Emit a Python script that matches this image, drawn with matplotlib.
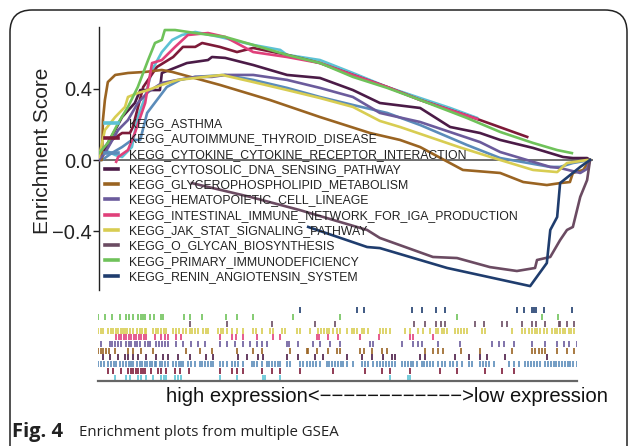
import matplotlib
matplotlib.use("Agg")
import matplotlib.pyplot as plt
from matplotlib.patches import FancyBboxPatch

plt.rcParams['font.family'] = ['Liberation Sans', 'DejaVu Sans']

# ---------------- data ----------------
gene_sets = ["KEGG_ASTHMA", "KEGG_AUTOIMMUNE_THYROID_DISEASE",
             "KEGG_CYTOKINE_CYTOKINE_RECEPTOR_INTERACTION",
             "KEGG_CYTOSOLIC_DNA_SENSING_PATHWAY",
             "KEGG_GLYCEROPHOSPHOLIPID_METABOLISM",
             "KEGG_HEMATOPOIETIC_CELL_LINEAGE",
             "KEGG_INTESTINAL_IMMUNE_NETWORK_FOR_IGA_PRODUCTION",
             "KEGG_JAK_STAT_SIGNALING_PATHWAY",
             "KEGG_O_GLYCAN_BIOSYNTHESIS",
             "KEGG_PRIMARY_IMMUNODEFICIENCY",
             "KEGG_RENIN_ANGIOTENSIN_SYSTEM"]
colors = ["#5cc2d4", "#7d1a38", "#5b8cba", "#4b1b47", "#9a6422", "#6b5b9c",
          "#e0407a", "#d8cd52", "#6b4b62", "#6fc25a", "#1f3d6e"]

# running enrichment score: x = position in ranked list (%), y = ES
asthma_x = [0, 1.2, 3.3, 4.7, 6.7, 7.9, 9.4, 10.8, 12.8, 14.9, 16.9, 19.6, 24.6, 31.4, 36.9, 38.3, 45.0, 51.7, 58.7, 65.4, 71.5, 77.0]
asthma_y = [0.017, 0.056, 0.028, 0.017, 0.073, 0.242, 0.355, 0.507, 0.608, 0.676, 0.704, 0.721, 0.693, 0.648, 0.620, 0.592, 0.563, 0.490, 0.411, 0.349, 0.293, 0.237]

autoimmune_x = [0, 0.6, 2.6, 4.7, 6.3, 6.9, 9.0, 11.8, 15.1, 17.1, 19.6, 21.0, 24.6, 28.1, 31.4, 38.3, 45.0, 51.7, 58.7, 65.4, 77.0, 87.2]
autoimmune_y = [0, 0.017, 0.113, 0.152, 0.152, 0.186, 0.411, 0.524, 0.580, 0.637, 0.637, 0.659, 0.637, 0.608, 0.631, 0.592, 0.546, 0.479, 0.411, 0.338, 0.231, 0.130]

cytokine_x = [0, 0.6, 2.6, 4.7, 6.7, 8.4, 9.8, 11.8, 13.8, 16.5, 19.6, 25.7, 31.4, 38.3, 45.0, 51.7, 58.7, 65.4, 74.9, 81.7, 91.9, 93.9, 96.5, 100]
cytokine_y = [0, 0, 0.039, 0.073, 0.113, 0.113, 0.265, 0.338, 0.411, 0.451, 0.468, 0.479, 0.451, 0.406, 0.355, 0.310, 0.265, 0.197, 0.085, 0.011, -0.039, -0.039, -0.017, 0]

cytosolic_x = [0, 0.6, 3.3, 4.7, 7.3, 8.4, 12.4, 12.8, 17.9, 22.2, 23.0, 25.7, 31.4, 38.3, 45.0, 51.7, 57.2, 65.4, 71.5, 77.6, 81.7, 88.4, 94.5, 96.5, 99.4, 100]
cytosolic_y = [0, 0.039, 0.169, 0.242, 0.321, 0.394, 0.394, 0.490, 0.546, 0.563, 0.580, 0.575, 0.535, 0.479, 0.462, 0.394, 0.321, 0.293, 0.186, 0.152, 0.113, 0.068, 0.017, 0.011, 0.011, 0]

glycero_x = [0, 0.6, 0.8, 1.2, 1.8, 3.3, 5.9, 9.4, 12.8, 14.9, 24.6, 34.8, 45.0, 55.2, 61.3, 65.4, 74.1, 81.7, 86.4, 91.2, 93.9, 95.9, 96.5, 98.6, 100]
glycero_y = [0, 0, 0.225, 0.338, 0.439, 0.479, 0.490, 0.496, 0.507, 0.496, 0.423, 0.338, 0.242, 0.152, 0.113, 0.073, -0.056, -0.073, -0.124, -0.141, -0.130, -0.124, -0.073, -0.056, 0]

hemato_x = [0, 1.2, 3.9, 5.9, 7.9, 10.0, 12.8, 16.1, 19.6, 23.0, 25.7, 31.4, 38.3, 45.0, 51.7, 57.2, 65.4, 77.6, 81.7, 91.9, 93.9, 98.0, 99.4, 100]
hemato_y = [0, 0.039, 0.169, 0.225, 0.321, 0.383, 0.434, 0.451, 0.468, 0.468, 0.479, 0.479, 0.451, 0.406, 0.355, 0.265, 0.214, 0.101, 0.045, -0.039, -0.045, -0.073, -0.050, 0]

intestinal_x = [3.5, 3.9, 5.9, 7.3, 9.4, 10.8, 12.8, 15.5, 18.1, 22.2, 25.7, 31.4, 38.3, 45.0, 51.7, 58.7, 65.4, 77.0]
intestinal_y = [-0.01, 0.017, 0.056, 0.152, 0.321, 0.546, 0.563, 0.637, 0.704, 0.715, 0.693, 0.608, 0.580, 0.546, 0.479, 0.411, 0.338, 0.231]

jak_x = [0, 1.2, 3.3, 5.3, 5.9, 7.9, 10.0, 12.8, 16.1, 19.6, 25.1, 31.4, 38.3, 45.0, 51.7, 57.2, 61.3, 73.3, 81.7, 88.4, 93.3, 95.3, 99.4, 100]
jak_y = [0.017, 0.169, 0.242, 0.299, 0.355, 0.377, 0.394, 0.423, 0.451, 0.462, 0.479, 0.439, 0.394, 0.349, 0.299, 0.220, 0.186, 0.073, 0, -0.056, -0.068, -0.017, 0, 0]

oglycan_x = [18.9, 30.8, 40.9, 54.6, 57.2, 68.0, 72.9, 79.6, 85.1, 88.8, 89.2, 91.9, 93.9, 95.3, 96.5, 98.0, 99.4, 100]
oglycan_y = [-0.130, -0.208, -0.282, -0.394, -0.439, -0.546, -0.552, -0.603, -0.625, -0.608, -0.563, -0.546, -0.451, -0.394, -0.377, -0.208, -0.113, 0]

primary_x = [0, 1.8, 3.9, 5.9, 7.9, 10.0, 11.4, 12.8, 13.4, 15.5, 19.6, 25.7, 31.4, 38.3, 45.0, 51.7, 58.7, 65.4, 74.9, 81.7, 88.4, 93.3, 96.3]
primary_y = [0.039, 0.096, 0.208, 0.299, 0.411, 0.563, 0.659, 0.676, 0.732, 0.732, 0.715, 0.693, 0.648, 0.592, 0.546, 0.468, 0.406, 0.338, 0.237, 0.158, 0.096, 0.056, 0.039]

renin_x = [42.6, 54.6, 57.2, 70.9, 87.8, 91.2, 91.9, 93.3, 93.9, 98.0, 100]
renin_y = [-0.377, -0.490, -0.496, -0.608, -0.710, -0.580, -0.394, -0.321, -0.130, -0.039, 0]

es_x = [asthma_x, autoimmune_x, cytokine_x, cytosolic_x, glycero_x, hemato_x,
        intestinal_x, jak_x, oglycan_x, primary_x, renin_x]
es_y = [asthma_y, autoimmune_y, cytokine_y, cytosolic_y, glycero_y, hemato_y,
        intestinal_y, jak_y, oglycan_y, primary_y, renin_y]

# hit positions (rank in ordered list, 0..1435)
asthma_hits = [50, 85, 95, 120, 130, 145, 165, 190, 198, 205, 230, 240, 250, 365, 415, 495, 500, 545, 875, 930, 935]
autoimmune_hits = [30, 45, 70, 90, 98, 105, 113, 120, 128, 135, 140, 160, 180, 190, 205, 230, 245, 273, 365, 400, 415, 435, 490, 520, 545, 605, 705, 800, 850, 875, 935, 1025, 1075, 1160, 1210, 1245]
cytokine_hits = [0, 8, 18, 30, 38, 47, 55, 65, 75, 83, 92, 100, 105, 117, 125, 133, 140, 148, 155, 163, 170, 175,
                 185, 193, 202, 210, 225, 233, 242, 250, 255, 270, 280, 290, 305, 313, 322, 330, 338, 345, 365, 373, 385,
                 400, 410, 420, 435, 460, 468, 477, 490, 505, 513, 522, 530, 538, 545, 565, 575, 605, 615, 625, 635, 643,
                 652, 665, 685, 693, 702, 710, 718, 727, 735, 745, 765, 790, 800, 810, 825, 835, 845, 855, 863, 872, 880,
                 890, 910, 920, 928, 937, 945, 955, 970, 978, 987, 995, 1005, 1020, 1030, 1040, 1055, 1065, 1075, 1090,
                 1110, 1120, 1145, 1153, 1162, 1170, 1185, 1230, 1245, 1260, 1280, 1288, 1297, 1305, 1315, 1325, 1340,
                 1348, 1357, 1365, 1373, 1382, 1390, 1398, 1407, 1415, 1423, 1435]
cytosolic_hits = [15, 35, 60, 80, 90, 105, 120, 145, 175, 195, 210, 240, 275, 325, 345, 420, 445, 480, 495, 565, 600,
                  650, 675, 745, 790, 820, 855, 880, 890, 965, 980, 1070, 1110, 1145, 1165, 1220, 1345]
glycero_hits = [0, 8, 15, 25, 33, 50, 90, 105, 130, 165, 265, 305, 343, 415, 465, 490, 575, 625, 630, 655, 690, 715,
                725, 785, 797, 820, 850, 865, 980, 1005, 1020, 1035, 1088, 1145, 1240, 1300, 1310, 1320, 1330, 1340,
                1375, 1405, 1425]
hemato_hits = [10, 35, 43, 52, 60, 70, 85, 93, 100, 110, 118, 125, 140, 150, 155, 175, 183, 192, 200, 210, 235, 255,
               280, 300, 320, 365, 385, 410, 435, 455, 475, 490, 505, 565, 573, 600, 645, 665, 695, 725, 815, 825, 910,
               945, 960, 970, 1020, 1085, 1180, 1200, 1215, 1245, 1300, 1340, 1375, 1395, 1410, 1435]
intestinal_hits = [55, 63, 70, 78, 85, 93, 100, 108, 115, 122, 130, 138, 145, 170, 190, 200, 210, 235, 250, 365, 400,
                   413, 435, 475, 525, 545, 655, 663, 690, 720, 785, 843, 935, 945, 1005]
jak_hits = [0, 8, 15, 30, 38, 45, 53, 60, 68, 75, 80, 87, 95, 105, 117, 125, 133, 140, 145, 165, 173, 180, 190, 198,
            205, 225, 233, 243, 255, 265, 275, 283, 292, 300, 315, 325, 330, 360, 368, 375, 385, 400, 415, 435, 463,
            473, 490, 515, 525, 550, 560, 595, 605, 635, 660, 668, 677, 685, 693, 705, 715, 725, 745, 760, 768, 775,
            790, 798, 810, 845, 853, 862, 875, 920, 935, 960, 975, 995, 1013, 1020, 1030, 1038, 1045, 1070, 1078,
            1088, 1097, 1105, 1150, 1160, 1240, 1270, 1280, 1290, 1300, 1308, 1315, 1325, 1335, 1345, 1360, 1368,
            1375, 1385, 1393, 1400, 1410, 1418, 1425]
oglycan_hits = [275, 385, 520, 650, 710, 948, 980, 1013, 1027, 1040, 1130, 1155, 1210, 1225, 1270, 1300, 1313, 1340,
                1380, 1385, 1405, 1425]
primary_hits = [0, 20, 43, 65, 83, 93, 105, 120, 128, 135, 142, 157, 167, 190, 195, 258, 275, 312, 382, 417, 465, 585,
                725, 1075, 1330, 1377]
renin_hits = [605, 775, 797, 940, 972, 1013, 1040, 1255, 1275, 1300, 1307, 1313, 1335, 1420]
hits = [asthma_hits, autoimmune_hits, cytokine_hits, cytosolic_hits, glycero_hits, hemato_hits,
        intestinal_hits, jak_hits, oglycan_hits, primary_hits, renin_hits]
n_genes = 1435

yticks = [-0.4, 0.0, 0.4]
ytick_labels = ["\u22120.4", "0.0", "0.4"]
xlabel_text = "high expression<" + "\u2212" * 12 + ">low expression"
caption_bold = "Fig. 4"
caption_text = "Enrichment plots from multiple GSEA"

# ---------------- figure ----------------
W, H = 629, 446
fig = plt.figure(figsize=(W / 100, H / 100), dpi=100)

def fx(px):
    return px / W

def fy(py):
    return 1 - py / H

# rounded frame
frame = FancyBboxPatch((fx(10), fy(470)), fx(617), fy(10) - fy(470),
                       boxstyle="round,pad=0,rounding_size=0.035",
                       transform=fig.transFigure, fill=False,
                       edgecolor="#222222", linewidth=1.1, mutation_aspect=W / H)
fig.patches.append(frame)

# upper panel: running ES
ax = fig.add_axes([fx(99), fy(290), fx(593) - fx(99), fy(27) - fy(290)])
ax.set_xlim(0, 100.6)
ax.set_ylim(-0.732, 0.749)
ax.axhline(0, color="#555555", lw=1.2, zorder=1)
handles = []
for name, c, xs, ys in zip(gene_sets, colors, es_x, es_y):
    h, = ax.plot(xs, ys, color=c, lw=1.9, solid_joinstyle="round", label=name, zorder=3)
    handles.append(h)
for s in ["top", "right", "bottom"]:
    ax.spines[s].set_visible(False)
ax.spines["left"].set_color("#222222")
ax.spines["left"].set_linewidth(1.0)
ax.set_xticks([])
ax.set_yticks(yticks)
ax.set_yticklabels(ytick_labels, fontsize=14.5, color="#222222")
ax.tick_params(axis="y", length=4, width=1.0, color="#222222", pad=1)
ax.set_ylabel("Enrichment Score", fontsize=15, color="#222222")
ax.yaxis.set_label_coords((52 - 99) / 494, (290 - 151) / 263)
ax.patch.set_alpha(0)

leg = ax.legend(handles=handles, loc="upper left",
                bbox_to_anchor=(fx(105), fy(118)), bbox_transform=fig.transFigure,
                frameon=False, fontsize=8.8, handlelength=1.1, handletextpad=0.9,
                labelspacing=0.27, borderpad=0, borderaxespad=0)
for line in leg.get_lines():
    line.set_linewidth(2.6)
for t in leg.get_texts():
    t.set_color("#222222")

# lower panel: hit markers
ax2 = fig.add_axes([fx(98), fy(381), fx(577) - fx(98), fy(307) - fy(381)])
ax2.set_xlim(0, n_genes)
ax2.set_ylim(-0.5, len(gene_sets) - 0.5)
for k, (c, hx) in enumerate(zip(colors, hits)):
    ax2.vlines(hx, k - 0.45, k + 0.45, color=c, lw=1.2)
for s in ["top", "right", "left"]:
    ax2.spines[s].set_visible(False)
ax2.spines["bottom"].set_color("#666666")
ax2.spines["bottom"].set_linewidth(1.6)
ax2.set_xticks([])
ax2.set_yticks([])
ax2.patch.set_alpha(0)

fig.text(fx(386.5), fy(397), xlabel_text, fontsize=14.6, ha="center", va="center", color="#111111")

fig.text(fx(12), fy(432), caption_bold, fontsize=14.5, fontweight="bold", ha="left", va="center",
         color="#222222", family=["Open Sans", "DejaVu Sans"])
fig.text(fx(79), fy(432), caption_text, fontsize=10.8, ha="left", va="center",
         color="#222222", family=["Open Sans", "DejaVu Sans"])

fig.savefig("out.png", dpi=100)
